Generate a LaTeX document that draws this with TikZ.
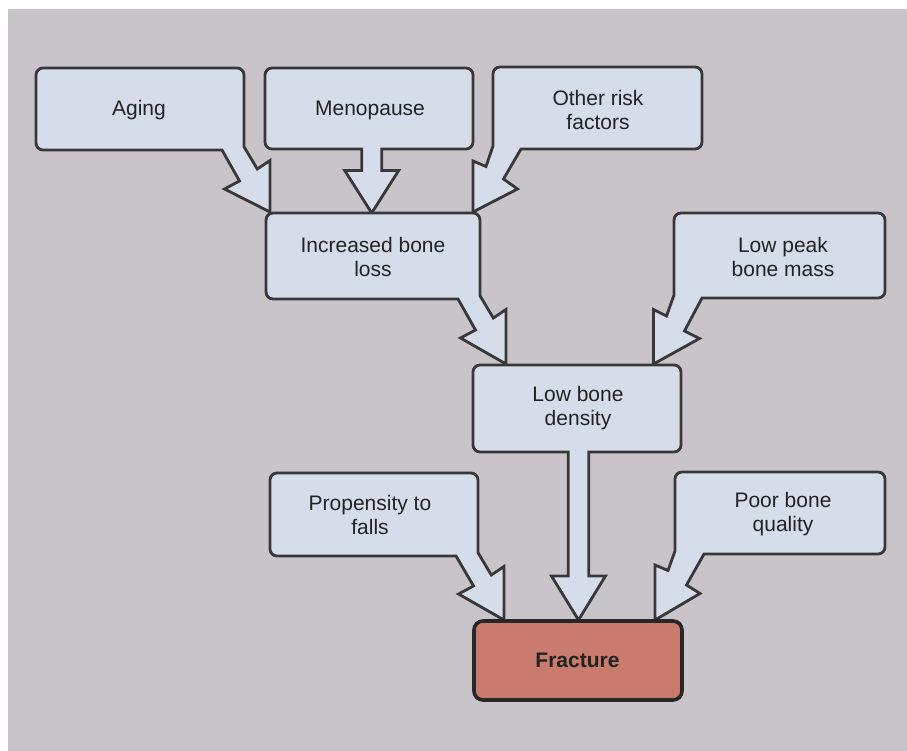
\documentclass[tikz,border=0pt]{standalone}
\usepackage{fontspec}
\setmainfont{Liberation Sans}
\definecolor{bg}{HTML}{C9C4CA}
\definecolor{boxfill}{HTML}{D5DCEA}
\definecolor{edge}{HTML}{383838}
\definecolor{fracfill}{HTML}{C97B6D}
\definecolor{txt}{HTML}{222222}
\begin{document}
\begin{tikzpicture}[x=1pt,y=-1pt,
  callout/.style={fill=boxfill, draw=edge, line width=2.8pt, line join=miter},
  fracbox/.style={fill=fracfill, draw=edge!70!black, line width=3.6pt, rounded corners=9pt},
  lbl/.style={text=txt, align=center, inner sep=0pt, font=\fontsize{21}{24}\selectfont}]
\useasboundingbox (0,0) rectangle (907,751);
\fill[white] (0,0) rectangle (907,751);
\fill[bg] (8,9) rectangle (912,756);

% Aging
\draw[callout] (36,75) arc[start angle=180,end angle=270,radius=7] -- (237,68)
  arc[start angle=270,end angle=360,radius=7] -- (244,146.7) -- (257.3,169) -- (270,160.5)
  -- (270,212) -- (224.5,189) -- (239.5,181) -- (222,150) -- (43,150)
  arc[start angle=90,end angle=180,radius=7] -- cycle;
% Menopause
\draw[callout] (265,75) arc[start angle=180,end angle=270,radius=7] -- (466,68)
  arc[start angle=270,end angle=360,radius=7] -- (473,142)
  arc[start angle=0,end angle=90,radius=7] -- (381.7,149) -- (381.7,170.5) -- (398.7,170.5)
  -- (371.7,213) -- (344.7,170.5) -- (361.7,170.5) -- (361.7,149) -- (272,149)
  arc[start angle=90,end angle=180,radius=7] -- cycle;
% Other risk factors
\draw[callout] (493,74) arc[start angle=180,end angle=270,radius=7] -- (695,67)
  arc[start angle=270,end angle=360,radius=7] -- (702,142)
  arc[start angle=0,end angle=90,radius=7] -- (521,149) -- (503.5,179) -- (517.5,189)
  -- (473,212) -- (473,161) -- (486,166.5) -- (493,146) -- cycle;

% Increased bone loss
\draw[callout] (266,220) arc[start angle=180,end angle=270,radius=7] -- (473,213)
  arc[start angle=270,end angle=360,radius=7] -- (480,295.7) -- (493.3,318) -- (506,309.5)
  -- (506,364) -- (460.5,338) -- (475.5,330) -- (458,299) -- (273,299)
  arc[start angle=90,end angle=180,radius=7] -- cycle;
% Low peak bone mass
\draw[callout] (674,220) arc[start angle=180,end angle=270,radius=7] -- (878,213)
  arc[start angle=270,end angle=360,radius=7] -- (885,291)
  arc[start angle=0,end angle=90,radius=7] -- (702,298) -- (684.5,331) -- (699.5,338.5)
  -- (653.5,364) -- (653.5,309.5) -- (666.5,316) -- (674,295) -- cycle;

% Low bone density
\draw[callout] (473,372) arc[start angle=180,end angle=270,radius=7] -- (674,365)
  arc[start angle=270,end angle=360,radius=7] -- (681,445)
  arc[start angle=0,end angle=90,radius=7] -- (588.8,452) -- (588.8,576) -- (605.5,576)
  -- (578.5,620) -- (551.5,576) -- (568.2,576) -- (568.2,452) -- (480,452)
  arc[start angle=90,end angle=180,radius=7] -- cycle;

% Propensity to falls
\draw[callout] (270,480) arc[start angle=180,end angle=270,radius=7] -- (471,473)
  arc[start angle=270,end angle=360,radius=7] -- (478,552.7) -- (491.3,575) -- (504,566.5)
  -- (504,620) -- (458.5,594) -- (473.5,586) -- (456,556) -- (277,556)
  arc[start angle=90,end angle=180,radius=7] -- cycle;
% Poor bone quality
\draw[callout] (675,479) arc[start angle=180,end angle=270,radius=7] -- (878,472)
  arc[start angle=270,end angle=360,radius=7] -- (885,547)
  arc[start angle=0,end angle=90,radius=7] -- (704,554) -- (686.5,585) -- (700,593.5)
  -- (655,620) -- (655,565) -- (668,570.5) -- (675,551) -- cycle;

% Fracture
\draw[fracbox] (474,621) rectangle (682,700);

% Labels
\node[lbl] (aging) at (139,110) {Aging};
\node[lbl] (meno) at (370,110) {Menopause};
\node[lbl] (other) at (598,110) {Other risk\\factors};
\node[lbl] (incr) at (373,256.5) {Increased bone\\loss};
\node[lbl] (peak) at (783,256.5) {Low peak\\bone mass};
\node[lbl] (lbd) at (578,408.5) {Low bone\\density};
\node[lbl] (prop) at (370,514.5) {Propensity to\\falls};
\node[lbl] (poor) at (783,514) {Poor bone\\quality};
\node[lbl, font=\fontsize{21}{24}\selectfont\bfseries] (frac) at (577.5,660.5) {Fracture};
\end{tikzpicture}
\end{document}
